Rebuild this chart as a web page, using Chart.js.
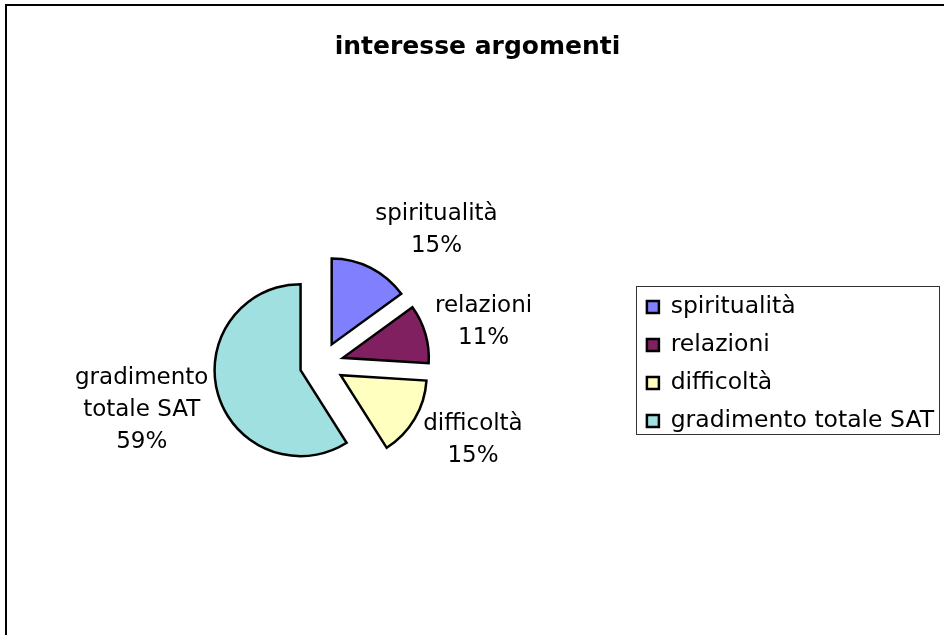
<!DOCTYPE html>
<html>
<head>
<meta charset="utf-8">
<script src="https://cdn.jsdelivr.net/npm/chart.js"></script>
<style>
  html, body { margin: 0; padding: 0; background: #fff; }
  canvas { display: block; }
</style>
</head>
<body>
<canvas id="pieChart" width="944" height="635"></canvas>
<script>
/* Data */
const categories = ["spiritualità", "relazioni", "difficoltà", "gradimento totale SAT"];
const values = [15, 11, 15, 59];
const sliceColors = ["#8080FF", "#802060", "#FFFFC0", "#A0E0E0"];
const chartTitle = "interesse argomenti";

/* Look */
const FONT = "'DejaVu Sans', sans-serif";
const EXPLODE = 22;      // how far every slice is pulled out
const LABEL_GAP = 10;
const LABEL_SIZE = 23;
const LABEL_LINE = 32;
const LABEL_WRAP = 140;

// exploded pie: move each arc out along its mid angle, the library still draws it
const baseArcDraw = Chart.ArcElement.prototype.draw;
Chart.ArcElement.prototype.draw = function (ctx) {
    const mid = (this.startAngle + this.endAngle) / 2;
    ctx.save();
    ctx.translate(Math.cos(mid) * EXPLODE, Math.sin(mid) * EXPLODE);
    baseArcDraw.call(this, ctx);
    ctx.restore();
};

function wrapText(ctx, text, maxWidth) {
    const words = text.split(" ");
    const lines = [];
    let line = "";
    words.forEach(w => {
        const test = line ? line + " " + w : w;
        if (line && ctx.measureText(test).width > maxWidth) {
            lines.push(line);
            line = w;
        } else {
            line = test;
        }
    });
    if (line) lines.push(line);
    return lines;
}

/* Frame round the whole chart */
const framePlugin = {
    id: "frame",
    beforeDraw(chart) {
        const ctx = chart.ctx;
        ctx.save();
        ctx.fillStyle = "#fff";
        ctx.fillRect(0, 0, chart.width, chart.height);
        ctx.strokeStyle = "#000";
        ctx.lineWidth = 2;
        ctx.strokeRect(6, 5, chart.width + 20, chart.height + 20);
        ctx.restore();
    }
};

/* Category + percent labels outside the slices */
const sliceLabels = {
    id: "sliceLabels",
    afterDatasetsDraw(chart) {
        const ctx = chart.ctx;
        const meta = chart.getDatasetMeta(0);
        const data = chart.data.datasets[0].data;
        const total = data.reduce((a, b) => a + b, 0);
        ctx.save();
        ctx.font = LABEL_SIZE + "px " + FONT;
        ctx.fillStyle = "#000";
        ctx.textAlign = "center";
        ctx.textBaseline = "middle";
        meta.data.forEach((arc, i) => {
            const p = arc.getProps(["x", "y", "startAngle", "endAngle", "outerRadius"], true);
            const mid = (p.startAngle + p.endAngle) / 2;
            const dx = Math.cos(mid), dy = Math.sin(mid);
            const dist = EXPLODE + p.outerRadius + LABEL_GAP;
            const ax = p.x + dx * dist;
            const ay = p.y + dy * dist;
            const lines = wrapText(ctx, chart.data.labels[i], LABEL_WRAP);
            lines.push(Math.round(data[i] / total * 100) + "%");
            const w = Math.max(...lines.map(l => ctx.measureText(l).width));
            const h = lines.length * LABEL_LINE;
            const sx = Math.abs(dx) < 0.1 ? 0 : Math.sign(dx);
            const cx = ax + sx * w / 2;
            const cy = ay + dy * h / 2;
            lines.forEach((l, k) => {
                ctx.fillText(l, cx, cy - h / 2 + LABEL_LINE / 2 + k * LABEL_LINE);
            });
        });
        ctx.restore();
    }
};

/* Box round the legend */
const legendBox = {
    id: "legendBox",
    afterDraw(chart) {
        const hb = chart.legend && chart.legend.legendHitBoxes;
        if (!hb || !hb.length) return;
        const left = hb[0].left - 11;
        const top = hb[0].top - 9;
        const right = Math.max(...hb.map(b => b.left + b.width)) + 5;
        const last = hb[hb.length - 1];
        const bottom = last.top + last.height + 1;
        const ctx = chart.ctx;
        ctx.save();
        ctx.strokeStyle = "#333";
        ctx.lineWidth = 1;
        ctx.strokeRect(Math.round(left) + 0.5, Math.round(top) + 0.5, Math.round(right - left), Math.round(bottom - top));
        ctx.restore();
    }
};

const chartElement = document.getElementById("pieChart");
new Chart(chartElement, {
    type: "pie",
    data: {
        labels: categories,
        datasets: [{
            data: values,
            backgroundColor: sliceColors,
            borderColor: "#000",
            borderWidth: 2.5,
            borderJoinStyle: "miter",
            radius: 86,
        }]
    },
    options: {
        responsive: false,
        animation: false,
        devicePixelRatio: 1,
        layout: {
            padding: { left: 11, right: 0, top: 0, bottom: 0 }
        },
        plugins: {
            title: {
                display: true,
                text: chartTitle,
                color: "#000",
                font: { family: FONT, size: 25, weight: "bold" },
                padding: { top: 32, bottom: 31 }
            },
            legend: {
                position: "right",
                align: "center",
                fullSize: false,
                labels: {
                    color: "#000",
                    font: { family: FONT, size: 23.5 },
                    boxWidth: 12,
                    boxHeight: 12,
                    padding: 14.5
                }
            },
            tooltip: { enabled: false }
        }
    },
    plugins: [framePlugin, sliceLabels, legendBox]
});
</script>
</body>
</html>
